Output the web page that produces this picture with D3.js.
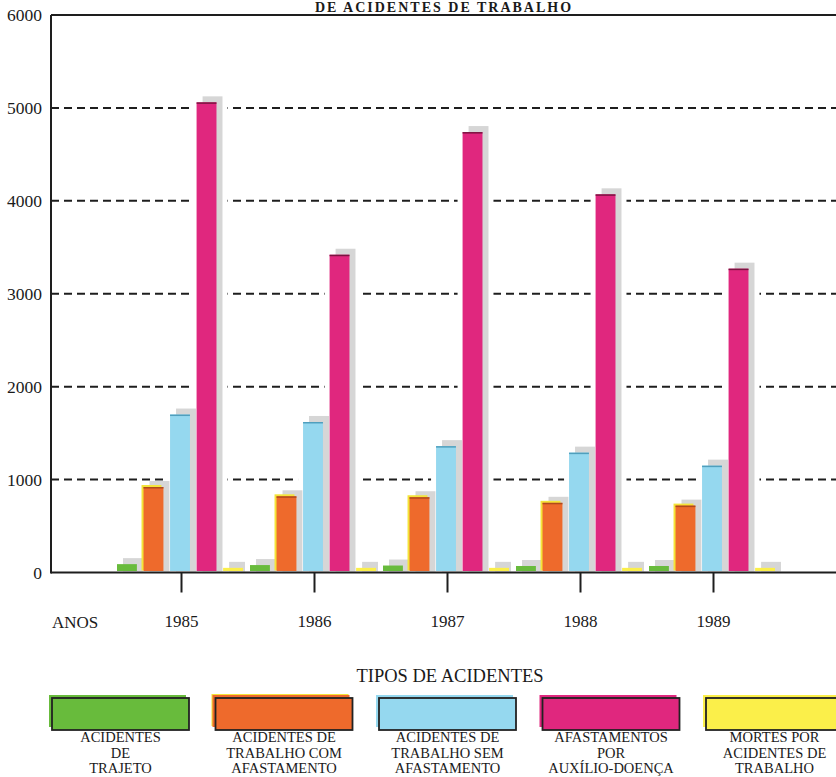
<!DOCTYPE html>
<html>
<head>
<meta charset="utf-8">
<script src="https://cdn.jsdelivr.net/npm/d3@7"></script>
<style>
  html, body { margin: 0; padding: 0; background: #ffffff; }
  svg { display: block; }
  text { font-family: "Liberation Serif", "Times New Roman", "DejaVu Serif", serif; fill: #1a1a1a; }
</style>
</head>
<body>
<svg id="chart" width="836" height="777"></svg>
<script>
// Anos e tipos de acidentes
const years = ["1985", "1986", "1987", "1988", "1989"];
const seriesKeys = ["trajeto", "comAfastamento", "semAfastamento", "auxilioDoenca", "mortes"];

// Valores por tipo (um valor por ano)
const trajeto        = [90, 80, 75, 70, 70];
const comAfastamento = [920, 820, 810, 750, 720];
const semAfastamento = [1700, 1620, 1360, 1290, 1150];
const auxilioDoenca  = [5060, 3420, 4740, 4070, 3270];
const mortes         = [50, 50, 50, 50, 50];

const yTicks = [0, 1000, 2000, 3000, 4000, 5000, 6000];

const legendLabels = [
  ["ACIDENTES", "DE", "TRAJETO"],
  ["ACIDENTES DE", "TRABALHO COM", "AFASTAMENTO"],
  ["ACIDENTES DE", "TRABALHO SEM", "AFASTAMENTO"],
  ["AFASTAMENTOS", "POR", "AUXÍLIO-DOENÇA"],
  ["MORTES POR", "ACIDENTES DE", "TRABALHO"]
];

const colors = ["#68bb3c", "#ee6a2c", "#95d8ef", "#e0277e", "#fbef4a"];

const seriesValues = [trajeto, comAfastamento, semAfastamento, auxilioDoenca, mortes];
const rows = years.map((yr, i) => ({
  year: yr,
  values: seriesKeys.map((k, j) => ({ key: k, idx: j, value: seriesValues[j][i] }))
}));

const svg = d3.select("#chart");
const serif = "'Liberation Serif', 'Times New Roman', serif";

const axisLeft = 51, axisRight = 836;
const y = d3.scaleLinear().domain([0, 6000]).range([572.5, 15]);
const x0 = d3.scaleBand().domain(years).range([115, 780]).paddingInner(0).paddingOuter(0);
const x1 = d3.scaleBand().domain(seriesKeys).range([2, 128]).paddingInner(0.25).paddingOuter(0);
const color = d3.scaleOrdinal().domain(seriesKeys).range(colors);

const shadowDx = 6, shadowDy = 6, halo = 5;

// Título
svg.append("text")
  .attr("x", 444).attr("y", 12)
  .attr("text-anchor", "middle")
  .style("font-size", "14px").style("font-weight", "bold")
  .style("letter-spacing", "2px")
  .text("DE ACIDENTES DE TRABALHO");

// Linhas de grade tracejadas
svg.append("g").selectAll("line")
  .data(yTicks.filter(t => t > 0 && t < 6000))
  .join("line")
  .attr("x1", axisLeft).attr("x2", axisRight)
  .attr("y1", d => y(d)).attr("y2", d => y(d))
  .attr("stroke", "#1e1e1e").attr("stroke-width", 2)
  .attr("stroke-dasharray", "8,5");

// Linha superior (6000)
svg.append("line")
  .attr("x1", axisLeft).attr("x2", axisRight)
  .attr("y1", y(6000)).attr("y2", y(6000))
  .attr("stroke", "#1e1e1e").attr("stroke-width", 2);

// Rótulos do eixo Y
const yAxis = d3.axisLeft(y).tickValues(yTicks).tickSize(0).tickPadding(9).tickFormat(d3.format("d"));
const gy = svg.append("g").attr("transform", `translate(${axisLeft},0)`).call(yAxis);
gy.attr("font-family", serif);
gy.select(".domain").remove();
gy.selectAll("text")
  .style("font-family", serif)
  .style("font-size", "17.5px").attr("fill", "#1a1a1a");

const groups = svg.append("g").selectAll("g")
  .data(rows).join("g")
  .attr("transform", d => `translate(${x0(d.year)},0)`);

// Margem branca em volta de cada barra (interrompe a grade)
groups.selectAll("rect.halo")
  .data(d => d.values).join("rect").attr("class", "halo")
  .attr("x", d => x1(d.key) - halo)
  .attr("y", d => y(d.value) - shadowDy)
  .attr("width", x1.bandwidth() + shadowDx + 2 * halo)
  .attr("height", d => y(0) - y(d.value) + shadowDy)
  .attr("fill", "#ffffff");

// Sombras cinzentas
groups.selectAll("rect.shadow")
  .data(d => d.values).join("rect").attr("class", "shadow")
  .attr("x", d => x1(d.key) + shadowDx)
  .attr("y", d => y(d.value) - shadowDy)
  .attr("width", x1.bandwidth())
  .attr("height", d => y(0) - y(d.value) + shadowDy - 1)
  .attr("fill", "#d6d6d6");

// Borda amarela das barras laranja
groups.selectAll("rect.edge")
  .data(d => d.values.filter(v => v.key === "comAfastamento")).join("rect").attr("class", "edge")
  .attr("x", d => x1(d.key) - 2)
  .attr("y", d => y(d.value) - 2)
  .attr("width", x1.bandwidth())
  .attr("height", d => y(0) - y(d.value))
  .attr("fill", "#f4e43a");

// Barras
groups.selectAll("rect.bar")
  .data(d => d.values).join("rect").attr("class", "bar")
  .attr("x", d => x1(d.key))
  .attr("y", d => y(d.value))
  .attr("width", x1.bandwidth())
  .attr("height", d => y(0) - y(d.value) - 1.5)
  .attr("fill", d => color(d.key));

// Friso escuro no topo das barras
const topShade = { semAfastamento: "#4f9fbd", auxilioDoenca: "#7a1440", comAfastamento: "#b04a1c" };
groups.selectAll("line.top")
  .data(d => d.values.filter(v => topShade[v.key])).join("line").attr("class", "top")
  .attr("x1", d => x1(d.key)).attr("x2", d => x1(d.key) + x1.bandwidth())
  .attr("y1", d => y(d.value) + 0.75).attr("y2", d => y(d.value) + 0.75)
  .attr("stroke", d => topShade[d.key]).attr("stroke-width", 1.5);

// Eixos
svg.append("line")
  .attr("x1", axisLeft).attr("x2", axisRight)
  .attr("y1", y(0)).attr("y2", y(0))
  .attr("stroke", "#1e1e1e").attr("stroke-width", 2);
svg.append("line")
  .attr("x1", axisLeft).attr("x2", axisLeft)
  .attr("y1", y(6000)).attr("y2", y(0) + 1)
  .attr("stroke", "#1e1e1e").attr("stroke-width", 2);

const xAxis = d3.axisBottom(x0).tickSize(20).tickPadding(22);
const gx = svg.append("g").attr("transform", `translate(0,${y(0)})`).call(xAxis);
gx.attr("font-family", serif);
gx.select(".domain").remove();
gx.selectAll(".tick line").attr("stroke", "#1e1e1e").attr("stroke-width", 2);
gx.selectAll("text")
  .style("font-family", serif)
  .style("font-size", "17px").attr("fill", "#1a1a1a");

svg.append("text")
  .attr("x", 52).attr("y", 628)
  .style("font-size", "17px")
  .text("ANOS");

// Legenda
svg.append("text")
  .attr("x", 450).attr("y", 682)
  .attr("text-anchor", "middle")
  .style("font-size", "18.5px")
  .text("TIPOS DE ACIDENTES");

const legX = d3.scalePoint().domain(seriesKeys).range([52, 706]);
const boxW = 137, boxH = 32, boxY = 698;
const leg = svg.append("g").selectAll("g")
  .data(seriesKeys).join("g")
  .attr("transform", d => `translate(${legX(d)},${boxY})`);

leg.filter(d => d === "comAfastamento").append("rect")
  .attr("x", -4).attr("y", -4).attr("width", boxW).attr("height", boxH)
  .attr("fill", "#f4e43a");
leg.append("rect")
  .attr("x", -3).attr("y", -3).attr("width", boxW).attr("height", boxH)
  .attr("fill", d => color(d));
leg.append("rect")
  .attr("x", 0).attr("y", 0).attr("width", boxW).attr("height", boxH)
  .attr("fill", d => color(d))
  .attr("stroke", "#222").attr("stroke-width", 1.8);

leg.each(function(d, i) {
  const g = d3.select(this);
  legendLabels[i].forEach((line, k) => {
    g.append("text")
      .attr("x", boxW / 2).attr("y", 44 + k * 15.5)
      .attr("text-anchor", "middle")
      .style("font-size", "14.5px")
      .text(line);
  });
});
</script>
</body>
</html>
